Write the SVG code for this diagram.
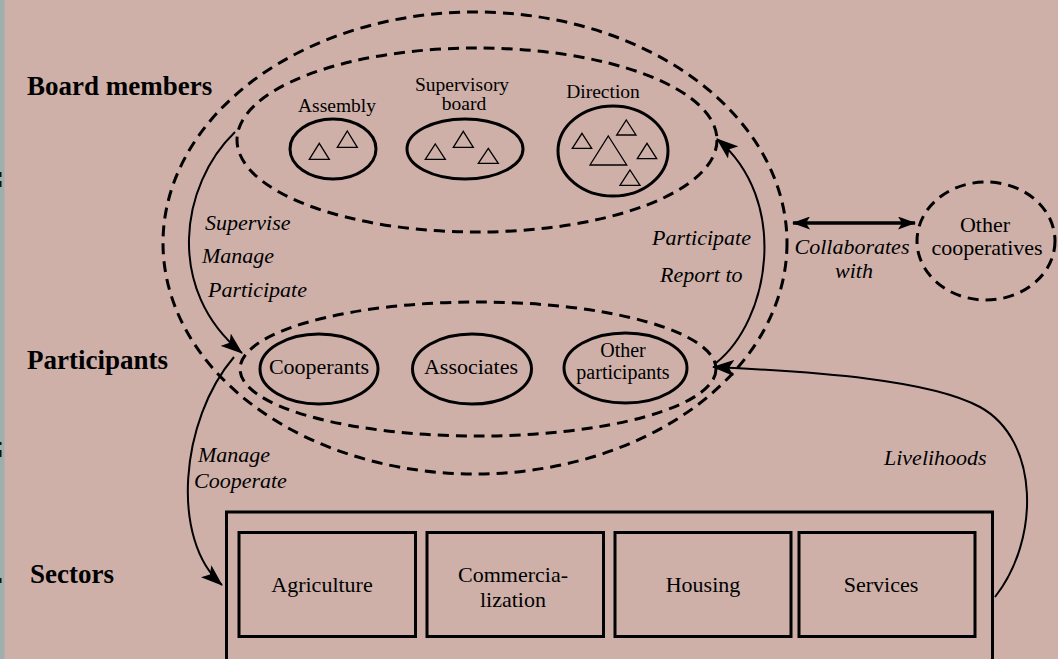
<svg xmlns="http://www.w3.org/2000/svg" width="1058" height="659" viewBox="0 0 1058 659">
  <defs>
    <marker id="head" markerUnits="userSpaceOnUse" markerWidth="22" markerHeight="16" viewBox="0 0 22 16" refX="21" refY="8" orient="auto-start-reverse">
      <path d="M0,0 L22,8 L0,16 L5,8 z" fill="#000"/>
    </marker>
    <marker id="head2" markerUnits="userSpaceOnUse" markerWidth="18" markerHeight="13" viewBox="0 0 18 13" refX="17" refY="6.5" orient="auto-start-reverse">
      <path d="M0,0 L18,6.5 L0,13 L4,6.5 z" fill="#000"/>
    </marker>
  </defs>
  <style>
    .dash{fill:none;stroke:#000;stroke-width:3;stroke-dasharray:11 7}
    .node{fill:none;stroke:#000;stroke-width:3}
    .box{fill:none;stroke:#000;stroke-width:3}
    .tri{fill:none;stroke:#000;stroke-width:1.3}
    .arc{fill:none;stroke:#000;stroke-width:2}
    .bold{fill:none;stroke:#000;stroke-width:3.5}
    text{font-family:"Liberation Serif","Times New Roman",serif;fill:#000}
    .h{font-weight:bold;font-size:27px}
    .lbl{font-size:19.5px;text-anchor:middle}
    .p{font-size:22px;text-anchor:middle}
    .p2{font-size:20px;text-anchor:middle}
    .it{font-style:italic;font-size:22px}
  </style>

  <!-- canvas -->
  <rect x="0" y="0" width="1058" height="659" fill="#ceb0a9"/>
  <rect x="0" y="0" width="4.5" height="659" fill="#9eafad"/>
  <g fill="#111">
    <rect x="0" y="172" width="1.5" height="5"/>
    <rect x="0" y="181" width="1.5" height="6"/>
    <rect x="0" y="442" width="1.5" height="3"/>
    <rect x="0" y="450" width="1.5" height="7"/>
    <rect x="0" y="578" width="1.5" height="5"/>
  </g>

  <!-- level headings -->
  <g id="headings">
    <text class="h" x="27" y="95">Board members</text>
    <text class="h" x="27" y="369">Participants</text>
    <text class="h" x="30" y="583">Sectors</text>
  </g>

  <!-- cooperative boundary and groupings -->
  <g id="cooperative">
    <ellipse class="dash" cx="475" cy="243" rx="312" ry="231"/>
  </g>
  <g id="board-group">
    <ellipse class="dash" cx="477" cy="140" rx="240" ry="92"/>
  </g>
  <g id="participant-group">
    <ellipse class="dash" cx="478" cy="369" rx="238" ry="67"/>
  </g>

  <!-- board bodies -->
  <g id="assembly">
    <text class="lbl" x="337" y="112">Assembly</text>
    <ellipse class="node" cx="333" cy="149" rx="43" ry="30"/>
    <path class="tri" d="M319.3,143.3 L329.3,159.3 L309.3,159.3 z"/>
    <path class="tri" d="M347.3,131 L357.3,147.3 L337.3,147.3 z"/>
  </g>
  <g id="supervisory-board">
    <text class="lbl" x="462" y="91">Supervisory</text>
    <text class="lbl" x="464" y="110">board</text>
    <ellipse class="node" cx="465" cy="149" rx="58" ry="30"/>
    <path class="tri" d="M435.3,144 L445.3,159.3 L425.3,159.3 z"/>
    <path class="tri" d="M463.3,131.3 L473.3,147.3 L453.3,147.3 z"/>
    <path class="tri" d="M488.3,148.3 L498.3,163.3 L478.3,163.3 z"/>
  </g>
  <g id="direction">
    <text class="lbl" x="603" y="98">Direction</text>
    <ellipse class="node" cx="613" cy="151" rx="55" ry="45"/>
    <path class="tri" d="M608.3,136 L626.7,165 L590,165 z"/>
    <path class="tri" d="M626.3,120 L636,135 L616.7,135 z"/>
    <path class="tri" d="M582,133.3 L591.7,148.3 L572.3,148.3 z"/>
    <path class="tri" d="M647,143.3 L656.7,158.7 L637.3,158.7 z"/>
    <path class="tri" d="M630,170 L640,185.3 L620,185.3 z"/>
  </g>

  <!-- participant kinds -->
  <g id="cooperants">
    <ellipse class="node" cx="319" cy="369" rx="59" ry="35"/>
    <text class="p" x="319" y="374">Cooperants</text>
  </g>
  <g id="associates">
    <ellipse class="node" cx="472" cy="369" rx="59.5" ry="35"/>
    <text class="p" x="471" y="374">Associates</text>
  </g>
  <g id="other-participants">
    <ellipse class="node" cx="625.5" cy="368" rx="61.5" ry="35"/>
    <text class="p2" x="623" y="356.5">Other</text>
    <text class="p2" x="623" y="379">participants</text>
  </g>

  <!-- other cooperatives -->
  <g id="other-cooperatives">
    <ellipse class="dash" cx="986" cy="241" rx="69" ry="59"/>
    <text class="p" x="985" y="232">Other</text>
    <text class="p" x="987" y="255">cooperatives</text>
  </g>

  <!-- sectors -->
  <g id="sectors">
    <rect class="box" x="226.5" y="512" width="766" height="170"/>
  </g>
  <g id="agriculture">
    <rect class="box" x="239" y="532.5" width="176.5" height="104"/>
    <text class="p" x="322" y="592">Agriculture</text>
  </g>
  <g id="commercialization">
    <rect class="box" x="427" y="532.5" width="176.5" height="104"/>
    <text class="p" x="513" y="582">Commercia-</text>
    <text class="p" x="513" y="607">lization</text>
  </g>
  <g id="housing">
    <rect class="box" x="615" y="532.5" width="176" height="104"/>
    <text class="p" x="703" y="592">Housing</text>
  </g>
  <g id="services">
    <rect class="box" x="799" y="532.5" width="176" height="104"/>
    <text class="p" x="881" y="592">Services</text>
  </g>

  <!-- relations -->
  <g id="connectors">
    <path class="arc" d="M235,132 C180,185 165,290 242,353" marker-end="url(#head)"/>
    <path class="arc" d="M716,363 C770,320 790,200 717,139" marker-end="url(#head)"/>
    <path class="arc" d="M234,357 C180,420 170,540 222,585" marker-end="url(#head)"/>
    <path class="arc" d="M995,597 C1040,540 1040,440 980,407 C930,380 820,372 713,367" marker-end="url(#head)"/>
    <path class="bold" d="M793,223 L915,223" marker-start="url(#head2)" marker-end="url(#head2)"/>
  </g>

  <!-- relation labels -->
  <g id="relation-labels">
    <text class="it" x="205" y="230">Supervise</text>
    <text class="it" x="202" y="263">Manage</text>
    <text class="it" x="208" y="297">Participate</text>
    <text class="it" x="652" y="245">Participate</text>
    <text class="it" x="660" y="282">Report to</text>
    <text class="it" x="852" y="254" text-anchor="middle">Collaborates</text>
    <text class="it" x="854" y="278" text-anchor="middle">with</text>
    <text class="it" x="198" y="462">Manage</text>
    <text class="it" x="194" y="488">Cooperate</text>
    <text class="it" x="884" y="465">Livelihoods</text>
  </g>
</svg>
